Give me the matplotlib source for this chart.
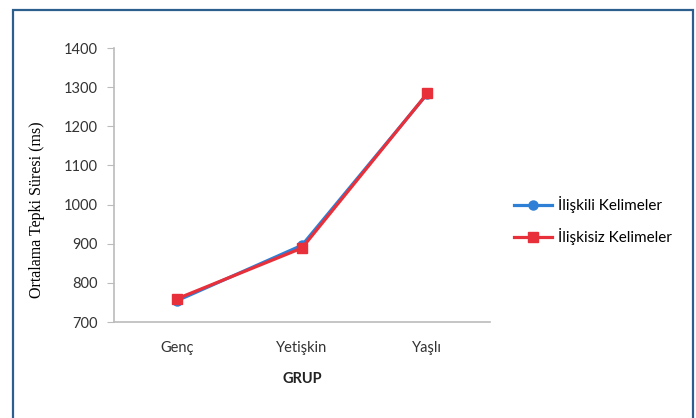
import matplotlib.pyplot as plt
from matplotlib.patches import Rectangle

groups = ['Genç', 'Yetişkin', 'Yaşlı']
iliskili = [754, 896, 1283]
iliskisiz = [759, 889, 1284]
y_ticks = [700, 800, 900, 1000, 1100, 1200, 1300, 1400]

plt.rcParams['font.family'] = ['Lato', 'DejaVu Sans']

fig = plt.figure(figsize=(6.96, 4.18), dpi=100)
ax = fig.add_axes([114 / 696, 1 - 322 / 418, 376 / 696, 274 / 418])

x = range(len(groups))
ax.plot(x, iliskili, color='#2E7FD6', lw=2.3, marker='o', ms=6.5, label='İlişkili Kelimeler')
ax.plot(x, iliskisiz, color='#E8303A', lw=2.3, marker='s', ms=7, label='İlişkisiz Kelimeler')

ax.set_xlim(-0.5, 2.5)
ax.set_ylim(700, 1400)
ax.set_yticks(y_ticks)
ax.set_xticks(list(x))
ax.set_xticklabels(groups)
ax.tick_params(axis='x', length=0, pad=14, labelsize=10.5, colors='#333333')
ax.tick_params(axis='y', length=5, color='#BBBBBB', pad=7, labelsize=10.5, labelcolor='#333333')
for s in ['top', 'right']:
    ax.spines[s].set_visible(False)
for s in ['left', 'bottom']:
    ax.spines[s].set_color('#BBBBBB')
    ax.spines[s].set_linewidth(1.2)

ax.set_xlabel('GRUP', fontweight='bold', fontsize=10.5, labelpad=12, color='#222222')
fig.text(37 / 696, 1 - 210 / 418, 'Ortalama Tepki Süresi (ms)', rotation=90,
         family='Liberation Serif', fontsize=11.5, ha='center', va='center')

ax.legend(loc='center left', bbox_to_anchor=((514 - 114) / 376, 0.37), frameon=False,
          fontsize=11, handlelength=2.5, labelspacing=0.95, handletextpad=0.35,
          borderaxespad=0, borderpad=0)

fig.patches.append(Rectangle((13 / 696, -0.1), 680 / 696, 1.1 - 10 / 418,
                             transform=fig.transFigure, fill=False,
                             edgecolor='#2C5F8E', lw=1.6))

fig.savefig('out.png', dpi=100)
